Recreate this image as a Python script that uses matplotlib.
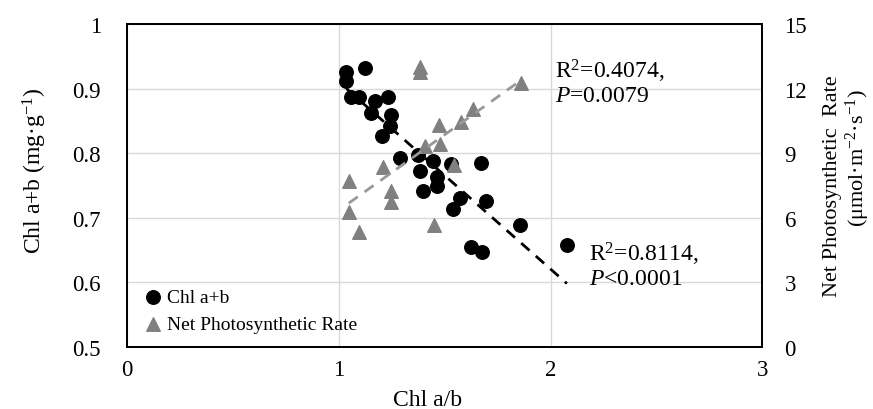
import numpy as np
import matplotlib
matplotlib.use("Agg")
from matplotlib import pyplot as plt

plt.rcParams['font.family'] = ['Liberation Serif', 'DejaVu Serif']
plt.rcParams['mathtext.fontset'] = 'custom'
plt.rcParams['mathtext.rm'] = 'Liberation Serif'
plt.rcParams['mathtext.it'] = 'Liberation Serif:italic'

# Chl a+b vs Chl a/b
chl_ratio = [1.035, 1.121, 1.035, 1.059, 1.095, 1.172, 1.231, 1.150, 1.248, 1.240,
             1.204, 1.287, 1.373, 1.444, 1.531, 1.672, 1.382, 1.461, 1.464, 1.398,
             1.571, 1.539, 1.697, 1.854, 1.626, 1.676, 2.077]
chl_total = [0.926, 0.932, 0.912, 0.888, 0.888, 0.881, 0.888, 0.862, 0.860, 0.843,
             0.826, 0.792, 0.797, 0.788, 0.783, 0.785, 0.772, 0.763, 0.750, 0.742,
             0.730, 0.714, 0.726, 0.688, 0.654, 0.647, 0.658]

# net photosynthetic rate vs Chl a/b
pn_ratio = [1.046, 1.046, 1.096, 1.209, 1.248, 1.248, 1.385, 1.385, 1.408, 1.450,
            1.472, 1.476, 1.544, 1.575, 1.632, 1.862]
pn_rate = [7.70, 6.25, 5.35, 8.35, 7.26, 6.72, 13.0, 12.8, 9.35, 5.66,
           10.31, 9.43, 8.45, 10.45, 11.06, 12.25]

W, H = 873, 410
fig = plt.figure(figsize=(W / 100, H / 100), dpi=100)
ax = fig.add_axes([127.3 / W, 62.3 / H, 635 / W, 322.4 / H])
ax2 = ax.twinx()

ax.set_xlim(0, 3)
ax.set_ylim(0.5, 1.0)
ax2.set_ylim(0, 15)
ax.set_xticks([0, 1, 2, 3])
ax.set_yticks([0.5, 0.6, 0.7, 0.8, 0.9, 1.0])
ax.set_yticklabels(["0.5", "0.6", "0.7", "0.8", "0.9", "1"])
ax2.set_yticks([0, 3, 6, 9, 12, 15])
ax.grid(True, color="#d9d9d9", linewidth=1)
ax.set_axisbelow(True)
ax.tick_params(axis="y", length=0, labelsize=16.5, pad=19)
ax.tick_params(axis="x", length=0, labelsize=16.5, pad=9)
ax2.tick_params(axis="y", length=0, labelsize=16.5, pad=16)
for a in (ax, ax2):
  for s in a.spines.values():
    s.set_linewidth(1.3)
    s.set_color("black")

ax.scatter(chl_ratio, chl_total, s=95, color="black", zorder=3, label="Chl a+b")
ax2.scatter(pn_ratio, pn_rate, s=95, marker="^", color="#808080", zorder=3, label="Net Photosynthetic Rate")

# linear trend lines
k, b = np.polyfit(chl_ratio, chl_total, 1)
xs = np.array([min(chl_ratio), max(chl_ratio)])
ax.plot(xs, k * xs + b, color="black", linestyle=(0, (4, 3)), linewidth=2, zorder=4)
k2, b2 = np.polyfit(pn_ratio, pn_rate, 1)
xs2 = np.array([min(pn_ratio), max(pn_ratio)])
ax2.plot(xs2, k2 * xs2 + b2, color="#999999", linestyle=(0, (4, 3)), linewidth=2, zorder=4)

# axis titles
fig.text(428 / W, 1 - 401 / H, "Chl a/b", fontsize=17, ha="center", va="center")
fig.text(35 / W, 1 - 171 / H, "Chl a+b (mg·g$^{-1}$)", fontsize=17, rotation=90, ha="center", va="center")
fig.text(832 / W, 1 - 186 / H, "Net Photosynthetic  Rate", fontsize=16, rotation=90, ha="center", va="center")
fig.text(858 / W, 1 - 158 / H, "(μmol·m$^{-2}$·s$^{-1}$)", fontsize=16, rotation=90, ha="center", va="center")

ax.text(2.019, 0.911, "R$^2$=0.4074,\n$P$=0.0079", fontsize=17, va="center", linespacing=1.05)
ax.text(2.179, 0.628, "R$^2$=0.8114,\n$P$<0.0001", fontsize=17, va="center", linespacing=1.05)

h1, l1 = ax.get_legend_handles_labels()
h2, l2 = ax2.get_legend_handles_labels()
ax2.legend(h1 + h2, l1 + l2, loc="lower left", frameon=False, fontsize=14,
           handlelength=1.2, handletextpad=0.15, borderaxespad=0.3, labelspacing=0.5)

fig.savefig("out.png", dpi=100)
